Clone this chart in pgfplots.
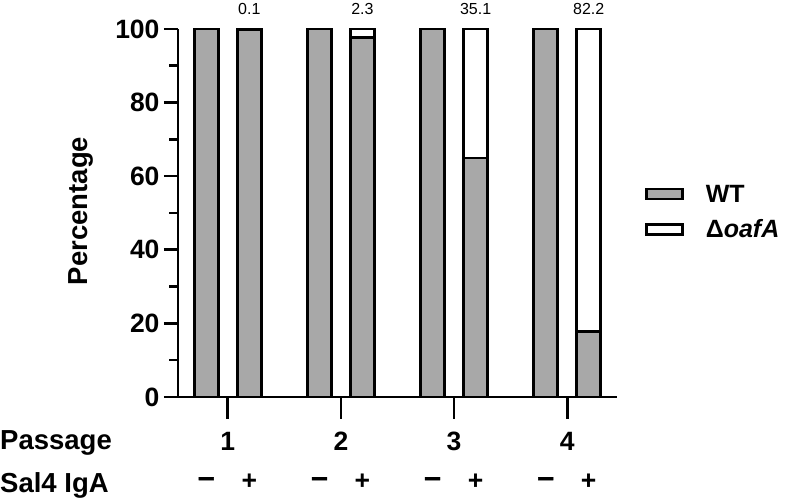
\documentclass[border=0pt]{standalone}
\usepackage{pgfplots}
\pgfplotsset{compat=1.18}
\usepackage{fontspec}
\setmainfont{Liberation Sans}
\definecolor{barg}{RGB}{168,168,168}
\newcommand{\bigb}{\bfseries\fontsize{27.5bp}{27.5bp}\selectfont}
\newcommand{\tkb}{\bfseries\fontsize{26.5bp}{26.5bp}\selectfont}
\newcommand{\lgb}{\bfseries\fontsize{25bp}{25bp}\selectfont}
\newcommand{\dsh}{\bfseries\fontsize{30bp}{30bp}\selectfont\addfontfeature{FakeBold=1.5}}
\newcommand{\smr}{\fontsize{16bp}{16bp}\selectfont}
\begin{document}
\begin{tikzpicture}[x=1bp,y=1bp]
\useasboundingbox (0,0) rectangle (788,499);
\begin{axis}[
  at={(178bp,102bp)}, anchor=origin,
  scale only axis, width=439bp, height=368bp,
  xmin=0.56, xmax=4.44, ymin=0, ymax=100,
  clip=false,
  axis lines=left, axis line style={line width=2.6bp, -},
  ybar stacked, bar width=24bp, bar shift=0pt,
  xtick={1,2,3,4}, xticklabels={1,2,3,4},
  ytick={0,20,...,100}, minor ytick={10,30,...,90},
  tick align=outside,
  tick style={line width=2.6bp, black},
  major tick length=14bp,
  minor tick length=9bp,
  xtick style={draw=none},
  /pgf/number format/assume math mode=true,
  yticklabel style={font=\tkb, xshift=-1bp},
  xticklabel style={font=\tkb, anchor=base, yshift=-40bp},
  legend style={at={(axis description cs:1,0.5)}, anchor=west, xshift=28bp, yshift=1bp,
     draw=none, fill=none, font=\lgb,
     row sep=16bp, column sep=22bp, inner sep=0pt, nodes={inner sep=0pt}},
  legend cell align=left,
]
\addplot[fill=barg, draw=black, line width=2.6bp,
  legend image code/.code={\draw[fill=barg,draw=black,line width=2.6bp] (0bp,-5bp) rectangle (36bp,5bp);}]
  coordinates {(0.81,100) (1.19,99.9) (1.81,100) (2.19,97.7) (2.81,100) (3.19,64.9) (3.81,100) (4.19,17.8)};
\addplot[fill=white, draw=black, line width=2.6bp,
  legend image code/.code={\draw[fill=white,draw=black,line width=2.6bp] (0bp,-5bp) rectangle (36bp,5bp);}]
  coordinates {(0.81,0) (1.19,0.1) (1.81,0) (2.19,2.3) (2.81,0) (3.19,35.1) (3.81,0) (4.19,82.2)};
\legend{WT, Δ\textit{oafA}}
\draw[line width=2.6bp] (axis cs:1,0) -- ++(0bp,-22bp);
\draw[line width=2.6bp] (axis cs:2,0) -- ++(0bp,-22bp);
\draw[line width=2.6bp] (axis cs:3,0) -- ++(0bp,-22bp);
\draw[line width=2.6bp] (axis cs:4,0) -- ++(0bp,-22bp);
\node[font=\smr, yshift=20bp] at (axis cs:1.19,100) {0.1};
\node[font=\smr, yshift=20bp] at (axis cs:2.19,100) {2.3};
\node[font=\smr, yshift=20bp] at (axis cs:3.19,100) {35.1};
\node[font=\smr, yshift=20bp] at (axis cs:4.19,100) {82.2};
\node[font=\dsh, yshift=-85bp] at (axis cs:0.81,0) {–};
\node[font=\tkb, yshift=-85bp] at (axis cs:1.19,0) {+};
\node[font=\dsh, yshift=-85bp] at (axis cs:1.81,0) {–};
\node[font=\tkb, yshift=-85bp] at (axis cs:2.19,0) {+};
\node[font=\dsh, yshift=-85bp] at (axis cs:2.81,0) {–};
\node[font=\tkb, yshift=-85bp] at (axis cs:3.19,0) {+};
\node[font=\dsh, yshift=-85bp] at (axis cs:3.81,0) {–};
\node[font=\tkb, yshift=-85bp] at (axis cs:4.19,0) {+};
\end{axis}
\node[font=\bigb, anchor=base west, inner sep=0pt] at (0,49) {Passage};
\node[font=\bigb, anchor=base west, inner sep=0pt] at (0,6) {Sal4 IgA};
\node[font=\bigb, rotate=90] at (81,288) {Percentage};
\end{tikzpicture}
\end{document}
